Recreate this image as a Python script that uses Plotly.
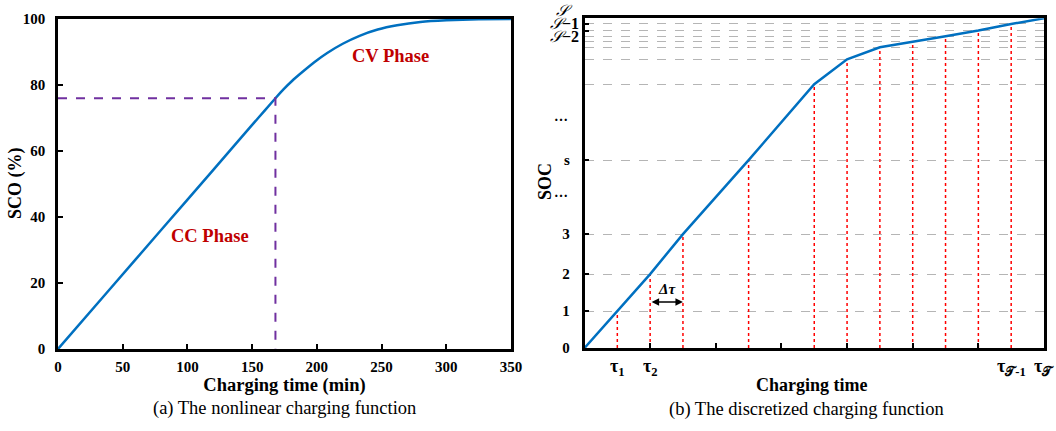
import plotly.graph_objects as go

W, H = 1056, 431

# ---------------- Left panel data (nonlinear charging function) ----------------
time_min = [0, 40, 80, 120, 150, 160, 168, 174, 181, 189, 198, 208, 220, 233, 247, 262, 280, 300, 325, 350]
soc_pct = [0, 18.1, 36.2, 54.3, 67.9, 72.4, 76.0, 78.6, 81.3, 84.0, 86.9, 89.7, 92.5, 94.9, 96.8, 98.1, 99.1, 99.6, 99.9, 100]
knee_time = 168
knee_soc = 76
left_xticks = [0, 50, 100, 150, 200, 250, 300, 350]
left_yticks = [0, 20, 40, 60, 80, 100]

# ---------------- Right panel data (discretized charging function) ----------------
tau_steps = [0, 1, 2, 3, 5, 7, 8, 9, 10, 11, 12, 13, 14]
soc_levels = [0, 37, 74, 114, 188, 264, 289, 301, 306.3, 312, 317.7, 324.3, 330]
soc_tick_vals = [0, 37, 74, 114, 188, 317.7, 324.3]
soc_tick_text = ["0", "1", "2", "3", "s", "", ""]
soc_minor_grid = [264, 289, 301, 306.3, 312]
time_tick_vals = [2, 4, 6, 8, 10, 12]
tau_label_pos = [1, 2, 13, 14]
tau_label_text = ["τ<sub>1</sub>", "τ<sub>2</sub>", "τ<sub>𝒯-1</sub>", "τ<sub>𝒯</sub>"]


def px(x):
    return x / W


def py(y):
    return 1 - y / H


SERIF = "Liberation Serif, Times New Roman, serif"
BLUE = "#0070C0"
PURPLE = "#7030A0"
DARKRED = "#C00000"

fig = go.Figure()

# Left panel traces
fig.add_trace(go.Scatter(x=time_min, y=soc_pct, mode="lines",
                         line=dict(color=BLUE, width=2.5, shape="spline", smoothing=0.5),
                         xaxis="x", yaxis="y", showlegend=False))
fig.add_trace(go.Scatter(x=[0, knee_time, knee_time], y=[knee_soc, knee_soc, 0], mode="lines",
                         line=dict(color=PURPLE, width=2, dash="dash"),
                         xaxis="x", yaxis="y", showlegend=False))

# Right panel traces: red dotted verticals
vx, vy = [], []
for t, s in zip(tau_steps[1:-1], soc_levels[1:-1]):
    vx += [t, t, None]
    vy += [0, s, None]
fig.add_trace(go.Scatter(x=vx, y=vy, mode="lines",
                         line=dict(color="#FF0000", width=1.5, dash="dot"),
                         xaxis="x2", yaxis="y2", showlegend=False))
fig.add_trace(go.Scatter(x=tau_steps, y=soc_levels, mode="lines",
                         line=dict(color=BLUE, width=2.5),
                         xaxis="x2", yaxis="y2", showlegend=False))

tickfont = dict(family=SERIF, size=15, color="black", weight="bold")
titlefont = dict(family=SERIF, size=18, color="black", weight="bold")

axis_common = dict(showline=True, linecolor="black", linewidth=2.5, mirror=True,
                   ticks="inside", tickcolor="black", tickwidth=2, ticklen=5,
                   zeroline=False, showgrid=False, tickfont=tickfont, automargin=False)

fig.update_layout(
    width=W, height=H, margin=dict(l=0, r=0, t=0, b=0),
    paper_bgcolor="white", plot_bgcolor="white",
    xaxis=dict(domain=[px(58), px(511)], range=[0, 350], tickvals=left_xticks,
               title=dict(text="Charging time (min)", font=dict(titlefont, size=18.5), standoff=1),
               ticklabelstandoff=2, anchor="y", **axis_common),
    yaxis=dict(domain=[py(349), py(19)], range=[0, 100], tickvals=left_yticks,
               ticklabelstandoff=7, anchor="x", **axis_common),
    xaxis2=dict(domain=[px(584.5), px(1044)], range=[0, 14], tickvals=time_tick_vals,
                showticklabels=False, anchor="y2", **axis_common),
    yaxis2=dict(domain=[py(348), py(18.3)], range=[0, 330], tickvals=soc_tick_vals,
                ticktext=soc_tick_text, ticklabelstandoff=9, anchor="x2",
                **{**axis_common, "showgrid": True, "gridcolor": "#b5b5b5",
                   "griddash": "dash", "gridwidth": 1},
                minor=dict(tickmode="array", tickvals=soc_minor_grid, showgrid=True,
                           gridcolor="#b5b5b5", griddash="dash", gridwidth=1, ticks="")),
)

C = dict(xanchor="center", yanchor="middle", showarrow=False)
R = dict(xanchor="right", yanchor="middle", showarrow=False)

ann = []
# left y title
ann.append(dict(x=px(15), y=py(183), xref="paper", yref="paper",
                text="<b>SCO (%)</b>", textangle=-90, font=titlefont, **C))
# phase labels
ann.append(dict(x=px(210), y=py(236), xref="paper", yref="paper", text="<b>CC Phase</b>",
                font=dict(family=SERIF, size=18.5, color=DARKRED), **C))
ann.append(dict(x=px(390), y=py(56), xref="paper", yref="paper", text="<b>CV Phase</b>",
                font=dict(family=SERIF, size=18.5, color=DARKRED), **C))
# captions
ann.append(dict(x=px(284), y=py(408), xref="paper", yref="paper",
                text="(a) The nonlinear charging function",
                font=dict(family=SERIF, size=18.5, color="black"), **C))
ann.append(dict(x=px(806), y=py(409), xref="paper", yref="paper",
                text="(b) The discretized charging function",
                font=dict(family=SERIF, size=18.5, color="black"), **C))
# right axis titles
ann.append(dict(x=px(812), y=py(385), xref="paper", yref="paper",
                text="<b>Charging time</b>", font=titlefont, **C))
ann.append(dict(x=px(545), y=py(182), xref="paper", yref="paper",
                text="<b>SOC</b>", textangle=-90, font=titlefont, **C))
# tau labels
for t, lab in zip(tau_label_pos, tau_label_text):
    ann.append(dict(x=t, y=py(367), xref="x2", yref="paper", text="<b>" + lab + "</b>",
                    font=dict(family=SERIF, size=18, color="black"), **C))
# ellipsis labels on SOC axis
for yy in [156, 232]:
    ann.append(dict(x=px(570), y=yy, xref="paper", yref="y2", text="<b>…</b>",
                    font=dict(family=SERIF, size=14, color="black"), **R))
# script S labels
ann.append(dict(x=px(575), y=py(10), xref="paper", yref="paper", text="<i>𝒮</i>",
                font=dict(family=SERIF, size=16, color="black"), **R))
ann.append(dict(x=px(581), y=py(23), xref="paper", yref="paper", text="<i>𝒮</i><b>−1</b>",
                font=dict(family=SERIF, size=16, color="black"), **R))
ann.append(dict(x=px(581), y=py(36), xref="paper", yref="paper", text="<i>𝒮</i><b>−2</b>",
                font=dict(family=SERIF, size=16, color="black"), **R))
# delta tau arrow
ann.append(dict(x=3, y=46, ax=2, ay=46, xref="x2", yref="y2", axref="x2", ayref="y2",
                text="", showarrow=True, arrowhead=2, startarrowhead=2, arrowside="end+start",
                arrowwidth=1.5, arrowsize=1, arrowcolor="black"))
ann.append(dict(x=2.5, y=59, xref="x2", yref="y2", text="<b><i>Δτ</i></b>",
                font=dict(family=SERIF, size=15, color="black"), xanchor="center",
                yanchor="middle", showarrow=False))

fig.update_layout(annotations=ann)
fig.write_html("out.html", config={"displayModeBar": False},
               post_script="document.body.style.margin='0';")
